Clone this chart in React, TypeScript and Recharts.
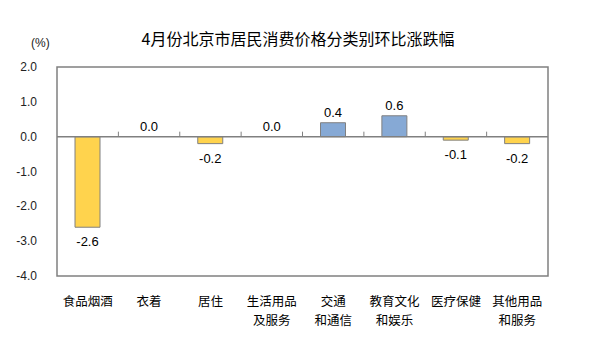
/**
 * 4月份北京市居民消费价格分类别环比涨跌幅 — bar chart, Recharts.
 */
import { Bar, Cell, ComposedChart, Line, ReferenceArea, ReferenceLine, XAxis, YAxis } from 'recharts'

const categories = [
  '食品烟酒',
  '衣着',
  '居住',
  '生活用品\n及服务',
  '交通\n和通信',
  '教育文化\n和娱乐',
  '医疗保健',
  '其他用品\n和服务',
]
const values = [-2.6, 0.0, -0.2, 0.0, 0.4, 0.6, -0.1, -0.2]
const yTicks = [2, 1, 0, -1, -2, -3, -4]

const data = categories.map((name, i) => ({ name, value: values[i] }))

const UP = '#86A9D5'
const DOWN = '#FFD34D'
const EDGE = '#808080'
const LATIN = '"Liberation Sans", Arial, sans-serif'
const CJK = '"Noto Sans CJK SC", sans-serif'

function CategoryTick(props: any) {
  const { x, y, payload } = props
  const lines = String(payload.value).split('\n')
  return (
    <g>
      {lines.map((t, i) => (
        <text
          key={i}
          x={x}
          y={y + 22 + i * 19}
          textAnchor="middle"
          fontSize={12.5}
          fontFamily={CJK}
          fill="#000"
        >
          {t}
        </text>
      ))}
    </g>
  )
}

function ValueTick(props: any) {
  const { x, y, payload } = props
  return (
    <text x={x - 12} y={y + 4} textAnchor="end" fontSize={12} fontFamily={LATIN} fill="#222">
      {payload.value.toFixed(1)}
    </text>
  )
}

function ValueLabel(props: any) {
  const { x, y, width, height, value } = props
  const top = Math.min(y, y + height)
  const bottom = Math.max(y, y + height)
  const ty = value < 0 ? bottom + 19 : top - 6
  return (
    <text x={x + width / 2} y={ty} textAnchor="middle" fontSize={13} fontFamily={LATIN} fill="#000">
      {Number(value).toFixed(1)}
    </text>
  )
}

// bars of height 0 get no label from the Bar, so the flat ones are labelled here
function ZeroLabel(props: any) {
  const { x, y, value } = props
  if (value !== 0) return null
  return (
    <text x={x} y={y - 6} textAnchor="middle" fontSize={13} fontFamily={LATIN} fill="#000">
      {Number(value).toFixed(1)}
    </text>
  )
}

function ZeroAxis(props: any) {
  const { x1, x2, y1 } = props
  const n = categories.length
  const step = (x2 - x1) / n
  const ticks = []
  for (let i = 1; i < n; i++) {
    const tx = x1 + step * i
    ticks.push(<line key={i} x1={tx} x2={tx} y1={y1} y2={y1 - 5} stroke={EDGE} strokeWidth={1} />)
  }
  return (
    <g>
      <line x1={x1} x2={x2} y1={y1} y2={y1} stroke={EDGE} strokeWidth={1.5} />
      {ticks}
    </g>
  )
}

export default function App() {
  return (
    <div style={{ position: 'absolute', left: 0, top: 0, width: 608, height: 355, background: '#fff' }}>
      <div
        style={{
          position: 'absolute',
          left: 0,
          width: 596,
          top: 26,
          textAlign: 'center',
          fontFamily: CJK,
          fontSize: 16,
          color: '#000',
        }}
      >
        4月份北京市居民消费价格分类别环比涨跌幅
      </div>
      <div
        style={{ position: 'absolute', left: 31, top: 36, fontFamily: LATIN, fontSize: 12, color: '#222' }}
      >
        (%)
      </div>
      <ComposedChart
        width={608}
        height={355}
        data={data}
        margin={{ top: 67, right: 60, left: 0, bottom: 0 }}
        barSize={25}
      >
        <XAxis
          dataKey="name"
          axisLine={false}
          tickLine={false}
          interval={0}
          tick={<CategoryTick />}
          height={79}
        />
        <YAxis
          width={57}
          domain={[-4, 2]}
          ticks={yTicks}
          interval={0}
          axisLine={false}
          tickLine={false}
          tick={<ValueTick />}
          allowDataOverflow
        />
        <ReferenceArea y1={-4} y2={2} fill="none" stroke={EDGE} strokeWidth={1.5} ifOverflow="visible" />
        <Bar
          dataKey="value"
          stroke={EDGE}
          strokeWidth={1}
          isAnimationActive={false}
          label={<ValueLabel />}
        >
          {data.map((d, i) => (
            <Cell key={i} fill={d.value > 0 ? UP : DOWN} />
          ))}
        </Bar>
        <Line
          dataKey="value"
          stroke="none"
          dot={false}
          activeDot={false}
          isAnimationActive={false}
          label={<ZeroLabel />}
        />
        <ReferenceLine y={0} shape={<ZeroAxis />} ifOverflow="visible" />
      </ComposedChart>
    </div>
  )
}
